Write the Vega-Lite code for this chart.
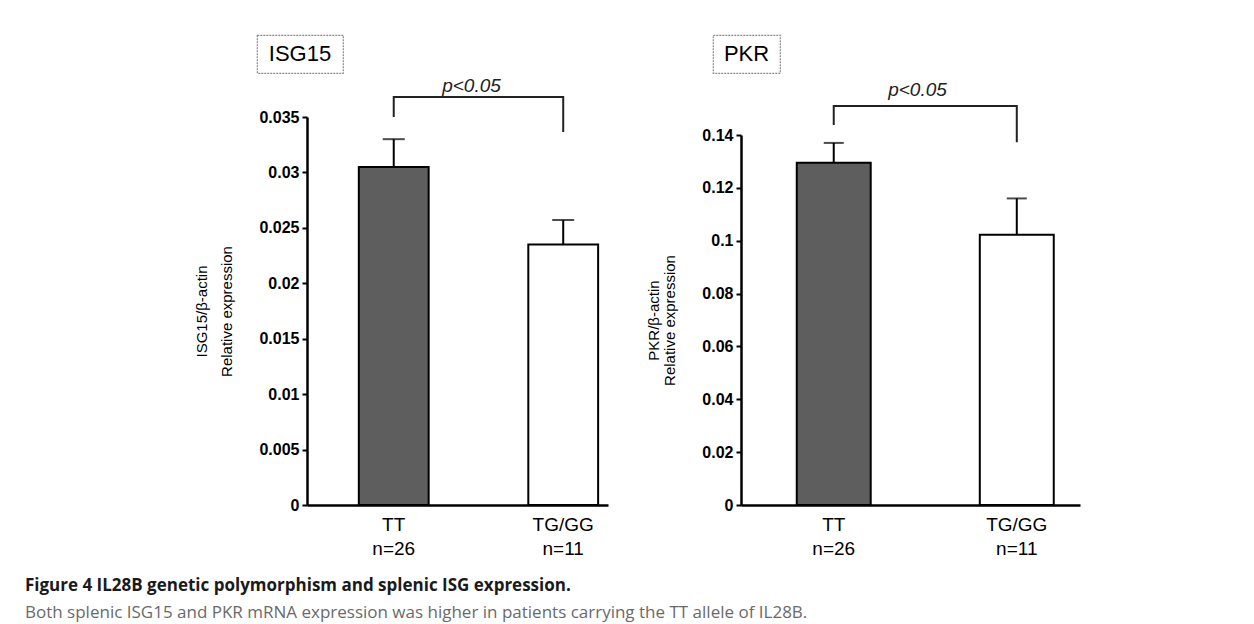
{
  "$schema": "https://vega.github.io/schema/vega-lite/v6.json",
  "padding": {"left": 25, "top": 34, "right": 5, "bottom": 5},
  "background": "white",
  "config": {
    "view": {"stroke": null},
    "font": "Liberation Sans",
    "axis": {"labelFont": "Liberation Sans", "titleFont": "Liberation Sans"}
  },
  "datasets": {
    "labels": [{"panel": "ISG15"}, {"panel": "PKR"}],
    "isg15": [
      {"genotype": "TT", "mean": 0.0305, "upper": 0.033},
      {"genotype": "TG/GG", "mean": 0.0235, "upper": 0.0257}
    ],
    "isg15_bracket": [
      {"genotype": "TT", "y": 0.035, "order": 1},
      {"genotype": "TT", "y": 0.0368, "order": 2},
      {"genotype": "TG/GG", "y": 0.0368, "order": 3},
      {"genotype": "TG/GG", "y": 0.03365, "order": 4}
    ],
    "isg15_sig": [{"label": "p<0.05", "y": 0.0378}],
    "pkr": [
      {"genotype": "TT", "mean": 0.1295, "upper": 0.137},
      {"genotype": "TG/GG", "mean": 0.1023, "upper": 0.116}
    ],
    "pkr_bracket": [
      {"genotype": "TT", "y": 0.1438, "order": 1},
      {"genotype": "TT", "y": 0.151, "order": 2},
      {"genotype": "TG/GG", "y": 0.151, "order": 3},
      {"genotype": "TG/GG", "y": 0.1373, "order": 4}
    ],
    "pkr_sig": [{"label": "p<0.05", "y": 0.157}]
  },
  "title": {
    "text": "Figure 4 IL28B genetic polymorphism and splenic ISG expression.",
    "subtitle": "Both splenic ISG15 and PKR mRNA expression was higher in patients carrying the TT allele of IL28B.",
    "orient": "bottom",
    "anchor": "start",
    "frame": "bounds",
    "dx": -130,
    "offset": 20,
    "font": "Open Sans",
    "fontSize": 17,
    "fontWeight": "bold",
    "color": "#1a1a1a",
    "subtitleFont": "Open Sans",
    "subtitleFontSize": 17,
    "subtitleColor": "#6a6a6a",
    "subtitlePadding": 10
  },
  "spacing": 2,
  "vconcat": [
    {
      "spacing": 0,
      "hconcat": [
        {"width": 101, "height": 38, "data": {"values": []}, "mark": "point", "encoding": {}},
        {
          "width": 86, "height": 38,
          "view": {"stroke": "#8a8a8a", "strokeWidth": 1.2, "strokeDash": [2, 1]},
          "data": {"name": "labels"},
          "transform": [{"filter": "datum.panel == 'ISG15'"}],
          "mark": {"type": "text", "fontSize": 22, "color": "black", "font": "Liberation Sans"},
          "encoding": {"text": {"field": "panel"}}
        },
        {"width": 368, "height": 38, "data": {"values": []}, "mark": "point", "encoding": {}},
        {
          "width": 67, "height": 38,
          "view": {"stroke": "#8a8a8a", "strokeWidth": 1.2, "strokeDash": [2, 1]},
          "data": {"name": "labels"},
          "transform": [{"filter": "datum.panel == 'PKR'"}],
          "mark": {"type": "text", "fontSize": 22, "color": "black", "font": "Liberation Sans"},
          "encoding": {"text": {"field": "panel"}}
        }
      ]
    },
    {
      "spacing": 38,
      "hconcat": [
        {"width": 1, "height": 1, "data": {"values": []}, "mark": "point", "encoding": {}},
        {
          "width": 301,
          "height": 388,
          "data": {"name": "isg15"},
          "layer": [
            {
              "mark": {"type": "bar", "stroke": "black", "strokeWidth": 2},
              "encoding": {
                "x": {
                  "field": "genotype", "type": "nominal", "sort": ["TT", "TG/GG"],
                  "scale": {"paddingInner": 0.588, "paddingOuter": 0.182, "align": 0.84},
                  "axis": {
                    "title": null, "ticks": false, "labelAngle": 0, "labelFontSize": 19,
                    "labelColor": "black", "labelPadding": 10, "labelLineHeight": 24,
                    "domainColor": "black", "domainWidth": 2.5,
                    "labelExpr": "datum.value == 'TT' ? ['TT', 'n=26'] : ['TG/GG', 'n=11']"
                  }
                },
                "y": {
                  "field": "mean", "type": "quantitative",
                  "scale": {"domain": [0, 0.035], "nice": false, "zero": true},
                  "axis": {
                    "values": [0, 0.005, 0.01, 0.015, 0.02, 0.025, 0.03, 0.035],
                    "labelExpr": "'' + datum.value",
                    "title": ["ISG15/β-actin", "Relative expression"],
                    "titleFontWeight": "normal", "titleFontSize": 15, "titleColor": "black",
                    "titlePadding": 24, "titleLineHeight": 25,
                    "labelFontWeight": "bold", "labelFontSize": 16, "labelColor": "black",
                    "labelPadding": 3,
                    "tickColor": "black", "tickSize": 5, "tickWidth": 2,
                    "domainColor": "black", "domainWidth": 2.5, "grid": false
                  }
                },
                "fill": {
                  "field": "genotype", "type": "nominal",
                  "scale": {"domain": ["TT", "TG/GG"], "range": ["#5e5e5e", "#ffffff"]},
                  "legend": null
                }
              }
            },
            {
              "mark": {"type": "rule", "strokeWidth": 2, "color": "black"},
              "encoding": {
                "x": {"field": "genotype", "type": "nominal", "sort": ["TT", "TG/GG"]},
                "y": {"field": "mean", "type": "quantitative"},
                "y2": {"field": "upper"}
              }
            },
            {
              "mark": {"type": "tick", "size": 22, "thickness": 2, "color": "black", "orient": "horizontal"},
              "encoding": {
                "x": {"field": "genotype", "type": "nominal", "sort": ["TT", "TG/GG"]},
                "y": {"field": "upper", "type": "quantitative"}
              }
            },
            {
              "data": {"name": "isg15_bracket"},
              "mark": {"type": "line", "color": "#222222", "strokeWidth": 2},
              "encoding": {
                "x": {"field": "genotype", "type": "nominal", "sort": ["TT", "TG/GG"]},
                "y": {"field": "y", "type": "quantitative"},
                "order": {"field": "order", "type": "quantitative"}
              }
            },
            {
              "data": {"name": "isg15_sig"},
              "mark": {"type": "text", "fontStyle": "italic", "fontSize": 19, "dx": 14, "baseline": "middle", "color": "#222222"},
              "encoding": {
                "y": {"field": "y", "type": "quantitative"},
                "text": {"field": "label"}
              }
            }
          ]
        },
        {
          "width": 339,
          "height": 388,
          "data": {"name": "pkr"},
          "layer": [
            {
              "mark": {"type": "bar", "stroke": "black", "strokeWidth": 2},
              "encoding": {
                "x": {
                  "field": "genotype", "type": "nominal", "sort": ["TT", "TG/GG"],
                  "scale": {"paddingInner": 0.596, "paddingOuter": 0.224, "align": 0.68},
                  "axis": {
                    "title": null, "ticks": false, "labelAngle": 0, "labelFontSize": 19,
                    "labelColor": "black", "labelPadding": 10, "labelLineHeight": 24,
                    "domainColor": "black", "domainWidth": 2.5,
                    "labelExpr": "datum.value == 'TT' ? ['TT', 'n=26'] : ['TG/GG', 'n=11']"
                  }
                },
                "y": {
                  "field": "mean", "type": "quantitative",
                  "scale": {"domain": [0, 0.14], "nice": false, "zero": true, "range": [388, 18]},
                  "axis": {
                    "values": [0, 0.02, 0.04, 0.06, 0.08, 0.1, 0.12, 0.14],
                    "labelExpr": "'' + datum.value",
                    "title": ["PKR/β-actin", "Relative expression"],
                    "titleFontWeight": "normal", "titleFontSize": 15, "titleColor": "black",
                    "titlePadding": 24, "titleLineHeight": 16,
                    "labelFontWeight": "bold", "labelFontSize": 16, "labelColor": "black",
                    "labelPadding": 3,
                    "tickColor": "black", "tickSize": 5, "tickWidth": 2,
                    "domainColor": "black", "domainWidth": 2.5, "grid": false
                  }
                },
                "fill": {
                  "field": "genotype", "type": "nominal",
                  "scale": {"domain": ["TT", "TG/GG"], "range": ["#5e5e5e", "#ffffff"]},
                  "legend": null
                }
              }
            },
            {
              "mark": {"type": "rule", "strokeWidth": 2, "color": "black"},
              "encoding": {
                "x": {"field": "genotype", "type": "nominal", "sort": ["TT", "TG/GG"]},
                "y": {"field": "mean", "type": "quantitative"},
                "y2": {"field": "upper"}
              }
            },
            {
              "mark": {"type": "tick", "size": 20, "thickness": 2, "color": "black", "orient": "horizontal"},
              "encoding": {
                "x": {"field": "genotype", "type": "nominal", "sort": ["TT", "TG/GG"]},
                "y": {"field": "upper", "type": "quantitative"}
              }
            },
            {
              "data": {"name": "pkr_bracket"},
              "mark": {"type": "line", "color": "#222222", "strokeWidth": 2},
              "encoding": {
                "x": {"field": "genotype", "type": "nominal", "sort": ["TT", "TG/GG"]},
                "y": {"field": "y", "type": "quantitative"},
                "order": {"field": "order", "type": "quantitative"}
              }
            },
            {
              "data": {"name": "pkr_sig"},
              "mark": {"type": "text", "fontStyle": "italic", "fontSize": 19, "dx": 7, "baseline": "middle", "color": "#222222"},
              "encoding": {
                "y": {"field": "y", "type": "quantitative"},
                "text": {"field": "label"}
              }
            }
          ]
        }
      ]
    }
  ]
}
